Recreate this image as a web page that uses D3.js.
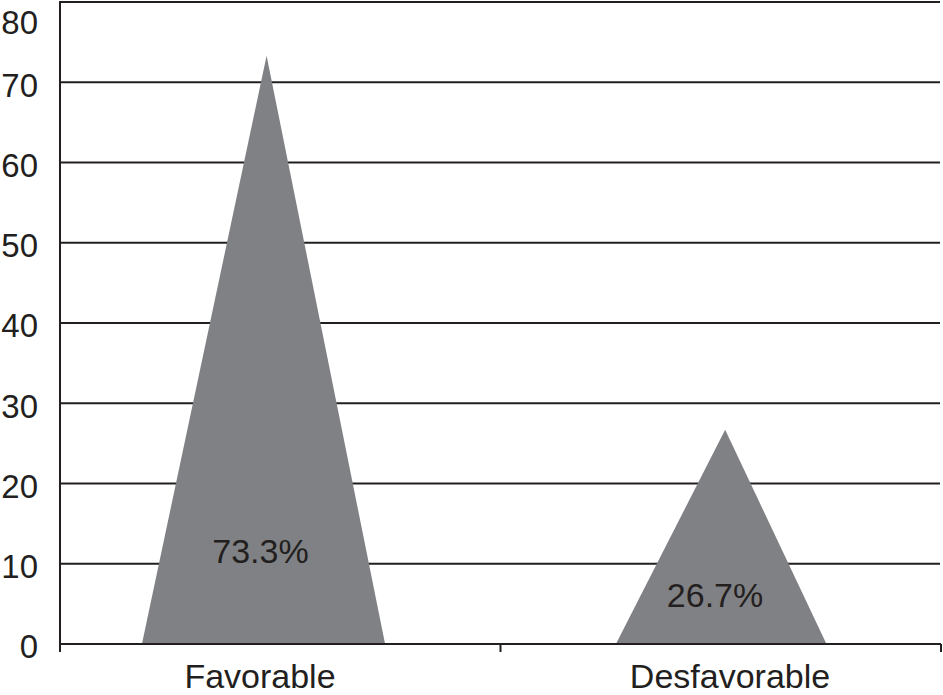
<!DOCTYPE html>
<html>
<head>
<meta charset="utf-8">
<script src="https://cdn.jsdelivr.net/npm/d3@7/dist/d3.min.js"></script>
<style>
  html, body { margin: 0; padding: 0; background: #fff; }
  svg { display: block; }
  text { font-family: "Liberation Sans", Arial, sans-serif; fill: #231f20; }
</style>
</head>
<body>
<svg id="chart" width="943" height="695"></svg>
<script>
// ---- data ----
const categories = ["Favorable", "Desfavorable"];
const values = [73.3, 26.7];
const valueLabels = ["73.3%", "26.7%"];
const yTicks = [0, 10, 20, 30, 40, 50, 60, 70, 80];

// ---- layout (styling, not data) ----
const W = 943, H = 695;
const mLeft = 60, mRight = 941, mTop = 2, mBottom = 644;
// triangle geometry as fractions of each band: [baseLeft, apex, baseRight]
const triShape = [[0.186, 0.469, 0.738], [0.262, 0.51, 0.74]];
const labelPos = [[0.455, 10.1], [0.487, 4.6]];   // [band fraction, y value]
const catLabelPos = [0.454, 0.521];

const svg = d3.select("#chart");

const x = d3.scaleBand().domain(categories).range([mLeft, mRight]).padding(0);
const y = d3.scaleLinear().domain([0, 80]).range([mBottom, mTop]);
const bw = x.bandwidth();

// gridlines
svg.append("g").selectAll("line").data(yTicks.filter(d => d > 0)).join("line")
  .attr("x1", mLeft).attr("x2", mRight - 1)
  .attr("y1", d => y(d)).attr("y2", d => y(d))
  .attr("stroke", "#231f20").attr("stroke-width", 2);

// triangles
svg.append("g").selectAll("path").data(categories).join("path")
  .attr("d", (c, i) => {
    const x0 = x(c);
    const s = triShape[i];
    return `M${x0 + s[0] * bw},${y(0)} L${x0 + s[1] * bw},${y(values[i])} L${x0 + s[2] * bw},${y(0)} Z`;
  })
  .attr("fill", "#808184");

// y axis (line and labels)
const yAxis = d3.axisLeft(y).tickValues(yTicks).tickSize(0).tickPadding(22);
const gy = svg.append("g").attr("transform", `translate(${mLeft},0)`).call(yAxis);
gy.select(".domain").remove();
gy.selectAll("text")
  .attr("font-size", 33).attr("fill", "#231f20")
  .attr("font-family", "Liberation Sans, Arial, sans-serif")
  .attr("dy", d => d === 80 ? "0.95em" : "0.42em");
svg.append("line").attr("x1", mLeft).attr("x2", mLeft)
  .attr("y1", mTop - 1).attr("y2", mBottom + 8)
  .attr("stroke", "#231f20").attr("stroke-width", 2);

// x axis
const gx = svg.append("g").attr("transform", `translate(0,${mBottom})`);
gx.append("line").attr("x1", mLeft).attr("x2", mRight)
  .attr("y1", 0).attr("y2", 0)
  .attr("stroke", "#231f20").attr("stroke-width", 2);
gx.selectAll("line.tick").data(categories).join("line").attr("class", "tick")
  .attr("x1", c => x(c) + bw).attr("x2", c => x(c) + bw)
  .attr("y1", 0).attr("y2", 8)
  .attr("stroke", "#231f20").attr("stroke-width", 2);
gx.selectAll("text").data(categories).join("text")
  .attr("x", (c, i) => x(c) + catLabelPos[i] * bw)
  .attr("y", 44)
  .attr("text-anchor", "middle")
  .attr("font-size", 34)
  .text(c => c);

// value labels
svg.append("g").selectAll("text").data(valueLabels).join("text")
  .attr("x", (t, i) => x(categories[i]) + labelPos[i][0] * bw)
  .attr("y", (t, i) => y(labelPos[i][1]))
  .attr("text-anchor", "middle")
  .attr("font-size", 34)
  .text(t => t);
</script>
</body>
</html>
